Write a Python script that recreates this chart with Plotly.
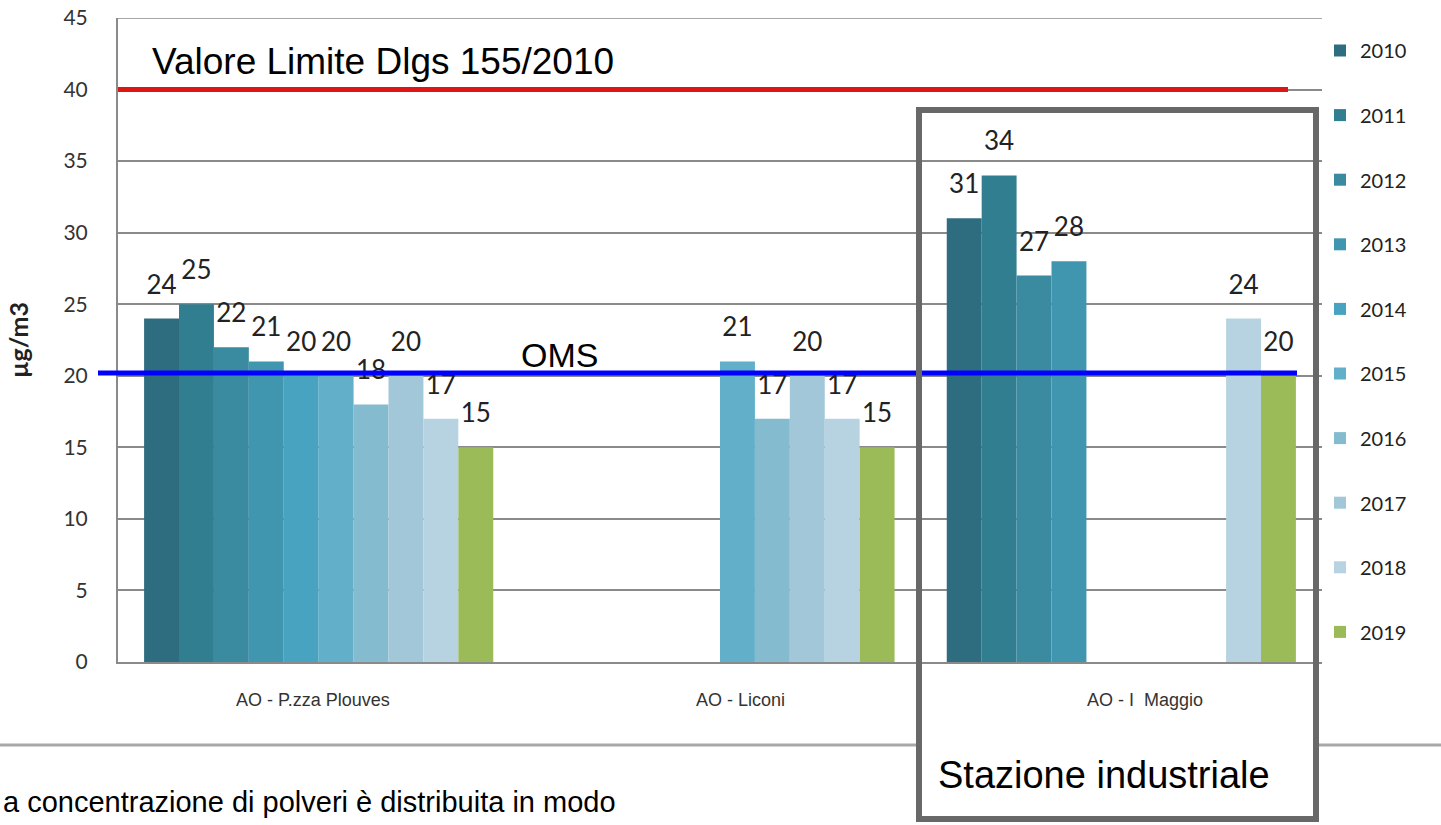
import plotly.graph_objects as go

stations = ["AO - P.zza Plouves", "AO - Liconi", "AO - I  Maggio"]
years = ["2010", "2011", "2012", "2013", "2014", "2015", "2016", "2017", "2018", "2019"]
values = {
    "2010": [24, None, 31],
    "2011": [25, None, 34],
    "2012": [22, None, 27],
    "2013": [21, None, 28],
    "2014": [20, None, None],
    "2015": [20, 21, None],
    "2016": [18, 17, None],
    "2017": [20, 20, None],
    "2018": [17, 17, 24],
    "2019": [15, 15, 20],
}
colors = ["#2E6D80", "#327E91", "#3A8AA0", "#4096AE", "#48A3C0",
          "#61AFC8", "#85BBCF", "#A1C7D9", "#B7D3E2", "#9BBB59"]

limit_value = 40
oms_value = 20.2
y_ticks = [0, 5, 10, 15, 20, 25, 30, 35, 40, 45]
label_shift = [-6, 20, 24]

# the page body margin is removed in the html, so screen coordinates = figure coordinates
W, H = 1441, 825
ML = 118
MT = 18
MR = W - 1322
MB = H - 662
PW = W - ML - MR
PH = H - MT - MB


def px(x):
    return (x - ML) / PW


def py(y):
    return (H - MB - y) / PH


fig = go.Figure()
for i, yr in enumerate(years):
    fig.add_trace(go.Bar(
        x=stations, y=values[yr], name=yr, offsetgroup=yr, legendgroup=yr,
        marker=dict(color=colors[i], line=dict(width=0)),
        hoverinfo="skip",
    ))
for i, yr in enumerate(years):
    fig.add_trace(go.Scatter(
        x=stations, y=values[yr], offsetgroup=yr, legendgroup=yr, showlegend=False,
        mode="markers+text",
        text=[("" if v is None else str(v)) for v in values[yr]],
        textposition="top center",
        marker=dict(size=28, opacity=0),
        textfont=dict(family="Lato", size=26, color="#222222"),
        cliponaxis=False, hoverinfo="skip",
    ))

shapes = [
    # top gridline
    dict(type="line", xref="paper", yref="y", x0=0, x1=1, y0=45, y1=45,
         line=dict(color="#8A8A8A", width=1.5), layer="below"),
    # red limit line
    dict(type="line", xref="paper", yref="y", x0=0, x1=px(1288), y0=limit_value, y1=limit_value,
         line=dict(color="#DD1515", width=5), layer="above"),
    # blue OMS line
    dict(type="line", xref="paper", yref="y", x0=px(98), x1=px(1297), y0=oms_value, y1=oms_value,
         line=dict(color="#0000FF", width=5), layer="above"),
    # separator line
    dict(type="line", xref="paper", yref="paper", x0=px(0), x1=px(918), y0=py(745), y1=py(745),
         line=dict(color="#A8A8A8", width=3), layer="above"),
    dict(type="line", xref="paper", yref="paper", x0=px(1316), x1=px(1441), y0=py(745), y1=py(745),
         line=dict(color="#A8A8A8", width=3), layer="above"),
    # industrial station box
    dict(type="rect", xref="paper", yref="paper", x0=px(919), x1=px(1316), y0=py(819), y1=py(110),
         line=dict(color="#686868", width=6), fillcolor="rgba(0,0,0,0)", layer="above"),
]

annotations = [
    dict(text="Valore Limite Dlgs 155/2010", xref="paper", yref="paper", x=px(150), y=py(61),
         xanchor="left", yanchor="middle", showarrow=False,
         font=dict(family="Liberation Sans", size=37, color="#000000")),
    dict(text="OMS", xref="paper", yref="paper", x=px(559), y=py(355),
         xanchor="center", yanchor="middle", showarrow=False,
         font=dict(family="Liberation Sans", size=34, color="#000000")),
    dict(text="Stazione industriale", xref="paper", yref="paper", x=px(936), y=py(775),
         xanchor="left", yanchor="middle", showarrow=False,
         font=dict(family="Liberation Sans", size=38, color="#000000")),
    dict(text="a concentrazione di polveri è distribuita in modo", xref="paper", yref="paper",
         x=px(1), y=py(802), xanchor="left", yanchor="middle", showarrow=False,
         font=dict(family="Liberation Sans", size=29, color="#000000")),
]
for name, dx in zip(stations, label_shift):
    annotations.append(dict(
        text=name, xref="x", yref="paper", x=name, y=py(700), xshift=dx,
        xanchor="center", yanchor="middle", showarrow=False,
        font=dict(family="Liberation Sans", size=18, color="#333333")))

fig.update_layout(
    width=W, height=H,
    margin=dict(l=ML, r=MR, t=MT, b=MB, autoexpand=False),
    paper_bgcolor="white", plot_bgcolor="white",
    barmode="group", bargap=0.13, bargroupgap=0,
    scattermode="group", scattergap=0.13,
    showlegend=True,
    legend=dict(x=px(1320), y=py(31), xanchor="left", yanchor="top",
                font=dict(family="Lato", size=20, color="#222222"),
                tracegroupgap=35.6, bgcolor="rgba(0,0,0,0)", itemclick=False),
    shapes=shapes, annotations=annotations,
    xaxis=dict(type="category", showgrid=False, showline=True, linecolor="#8A8A8A", linewidth=2,
               ticks="", showticklabels=False),
    yaxis=dict(range=[0, 45], tickvals=y_ticks, showgrid=True, gridcolor="#8A8A8A", gridwidth=1.5,
               showline=True, linecolor="#8A8A8A", linewidth=2, zeroline=False,
               ticks="", ticklabelstandoff=24, ticklabeloverflow="allow",
               tickfont=dict(family="Lato", size=21, color="#333333"),
               title=dict(text="<b>µg/m3</b>", standoff=28,
                          font=dict(family="Lato", size=25, color="#222222"))),
)

fig.write_html("out.html", config={"displayModeBar": False},
               post_script="document.body.style.margin='0';")
